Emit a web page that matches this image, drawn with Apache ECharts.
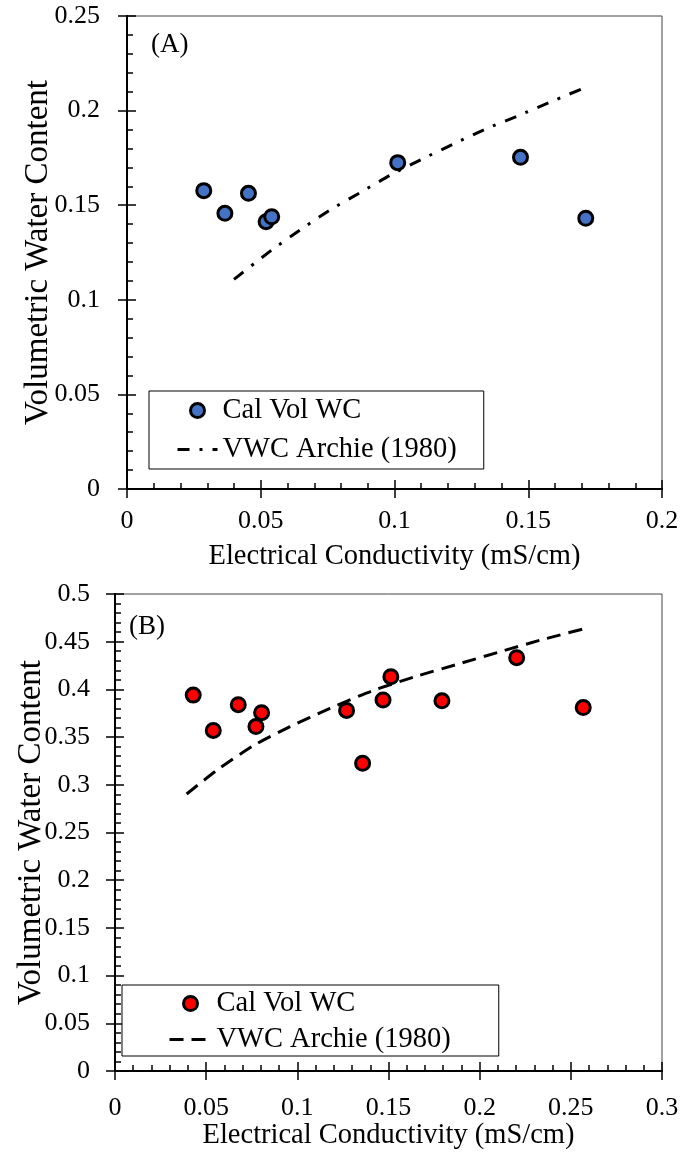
<!DOCTYPE html>
<html>
<head>
<meta charset="utf-8">
<script src="https://cdn.jsdelivr.net/npm/echarts@6/dist/echarts.min.js"></script>
<style>
  html, body { margin: 0; padding: 0; background: #fff; }
  #panelA { position: absolute; left: 0; top: 0; width: 686px; height: 576px; }
  #panelB { position: absolute; left: 0; top: 576px; width: 686px; height: 577px; }
</style>
</head>
<body>
<div id="panelA"></div>
<div id="panelB"></div>
<script>
// ---- Panel A: calculated volumetric water content vs. electrical conductivity
const ecA  = [0.0287, 0.0366, 0.0454, 0.0520, 0.0541, 0.1012, 0.1471, 0.1715];
const vwcA = [0.1577, 0.1457, 0.1563, 0.1413, 0.1439, 0.1725, 0.1753, 0.1431];
// Archie (1980) estimate, panel A
const archieEcA  = [0.0400, 0.0541, 0.0647, 0.0759, 0.0871, 0.0986, 0.1102, 0.1220, 0.1341, 0.1463, 0.1585, 0.1706];
const archieVwcA = [0.1108, 0.1263, 0.1369, 0.1475, 0.1566, 0.1660, 0.1743, 0.1823, 0.1903, 0.1973, 0.2047, 0.2118];

// ---- Panel B
const ecB  = [0.0429, 0.0539, 0.0676, 0.0773, 0.0804, 0.1270, 0.1358, 0.1470, 0.1513, 0.1793, 0.2203, 0.2568];
const vwcB = [0.394, 0.357, 0.384, 0.361, 0.3756, 0.378, 0.3225, 0.389, 0.4133, 0.388, 0.4332, 0.381];
const archieEcB  = [0.0393, 0.0557, 0.0758, 0.0960, 0.1179, 0.1408, 0.1645, 0.1883, 0.2112, 0.2349, 0.2583];
const archieVwcB = [0.2904, 0.3150, 0.3410, 0.3609, 0.3802, 0.3983, 0.4133, 0.4266, 0.4395, 0.4525, 0.4640];

// Axis ranges: [min, max, interval]
const xRangeA = [0, 0.2, 0.05];
const yRangeA = [0, 0.25, 0.05];
const xRangeB = [0, 0.3, 0.05];
const yRangeB = [0, 0.5, 0.05];

const labels = {
  panelA: '(A)',
  panelB: '(B)',
  xName: 'Electrical Conductivity (mS/cm)',
  yName: 'Volumetric Water Content',
  measured: 'Cal Vol WC',
  archie: 'VWC Archie (1980)'
};

const FONT = "'Liberation Serif', 'Times New Roman', serif";
const BLACK = '#000';

function pairs(xs, ys) { return xs.map((x, i) => [x, ys[i]]); }

// Two stacked axes per direction: one carries labels + inward ticks (major & minor),
// the other only adds outward major ticks so the major ticks cross the axis line.
function makeAxes(dim, range, cfg) {
  const base = {
    type: 'value', gridIndex: 0,
    min: range[0], max: range[1], interval: range[2],
    position: dim === 'x' ? 'bottom' : 'left',
    splitLine: { show: false },
    minorSplitLine: { show: false },
    axisLine: { show: true, lineStyle: { color: BLACK, width: 2 } }
  };
  const main = Object.assign({}, base, {
    axisTick: { show: true, inside: true, length: 9, lineStyle: { color: BLACK, width: 1.5 } },
    minorTick: { show: true, splitNumber: 5, length: 6, lineStyle: { color: BLACK, width: 1.5 } },
    axisLabel: {
      show: true, margin: cfg.labelMargin, color: BLACK,
      fontFamily: FONT, fontSize: 26
    },
    name: dim === 'x' ? labels.xName : labels.yName,
    nameLocation: 'middle',
    nameGap: cfg.nameGap,
    nameMoveOverlap: false,
    nameRotate: dim === 'x' ? 0 : 90,
    nameTextStyle: { fontFamily: FONT, fontSize: dim === 'x' ? 28.5 : 33, color: BLACK }
  });
  const outer = Object.assign({}, base, {
    axisTick: { show: true, inside: false, length: 9, lineStyle: { color: BLACK, width: 1.5 } },
    minorTick: { show: false },
    axisLabel: { show: false }
  });
  return [main, outer];
}

function buildOption(p) {
  return {
    animation: false,
    backgroundColor: '#fff',
    title: {
      text: p.title, left: p.titlePos[0], top: p.titlePos[1], padding: 0,
      textStyle: { fontFamily: FONT, fontSize: 27, fontWeight: 'normal', color: BLACK }
    },
    grid: {
      left: p.grid[0], top: p.grid[1], width: p.grid[2], height: p.grid[3],
      containLabel: false, outerBoundsMode: 'none',
      show: true, borderColor: '#444', borderWidth: 1, backgroundColor: 'transparent'
    },
    xAxis: makeAxes('x', p.xRange, { labelMargin: p.xLabelMargin, nameGap: p.xNameGap }),
    yAxis: makeAxes('y', p.yRange, { labelMargin: p.yLabelMargin, nameGap: p.yNameGap }),
    legend: {
      orient: 'vertical',
      left: p.legend.left, top: p.legend.top,
      padding: p.legend.padding,
      itemWidth: p.legend.itemWidth, itemHeight: 14, itemGap: p.legend.itemGap,
      backgroundColor: '#fff', borderColor: BLACK, borderWidth: 1,
      textStyle: { fontFamily: FONT, fontSize: 28.5, color: BLACK, lineHeight: 28 },
      data: [
        { name: labels.measured, itemStyle: { borderColor: BLACK, borderWidth: 3 } },
        { name: labels.archie, itemStyle: { opacity: 0 }, lineStyle: { width: 3 } }
      ]
    },
    series: [
      {
        name: labels.archie, type: 'line',
        xAxisIndex: 0, yAxisIndex: 0,
        data: pairs(p.lineX, p.lineY),
        symbol: 'none', smooth: 0.2,
        lineStyle: { color: BLACK, width: 3, type: p.dash, cap: 'butt' },
        z: 3
      },
      {
        name: labels.measured, type: 'scatter',
        xAxisIndex: 0, yAxisIndex: 0,
        data: pairs(p.ptX, p.ptY),
        symbol: 'circle', symbolSize: 14,
        itemStyle: { color: p.color, borderColor: BLACK, borderWidth: 3, opacity: 1 },
        z: 4
      }
    ]
  };
}

const chartA = echarts.init(document.getElementById('panelA'), null, { renderer: 'canvas' });
chartA.setOption(buildOption({
  title: labels.panelA, titlePos: [151, 31],
  grid: [127, 16, 535, 473],
  xRange: xRangeA, yRange: yRangeA,
  xLabelMargin: 19, xNameGap: 53,
  yLabelMargin: 27, yNameGap: 72,
  legend: { left: 149, top: 391, padding: [5, 27, 5, 27], itemWidth: 40, itemGap: 10 },
  lineX: archieEcA, lineY: archieVwcA, dash: [12, 10, 3, 10],
  ptX: ecA, ptY: vwcA, color: '#4472C4'
}));

const chartB = echarts.init(document.getElementById('panelB'), null, { renderer: 'canvas' });
chartB.setOption(buildOption({
  title: labels.panelB, titlePos: [129, 37],
  grid: [115, 18, 547, 477],
  xRange: xRangeB, yRange: yRangeB,
  xLabelMargin: 24, xNameGap: 50,
  yLabelMargin: 25, yNameGap: 67,
  legend: { left: 122, top: 409, padding: [4, 48, 2, 46], itemWidth: 42, itemGap: 7 },
  lineX: archieEcB, lineY: archieVwcB, dash: [14, 8],
  ptX: ecB, ptY: vwcB, color: '#FF0000'
}));
</script>
</body>
</html>
